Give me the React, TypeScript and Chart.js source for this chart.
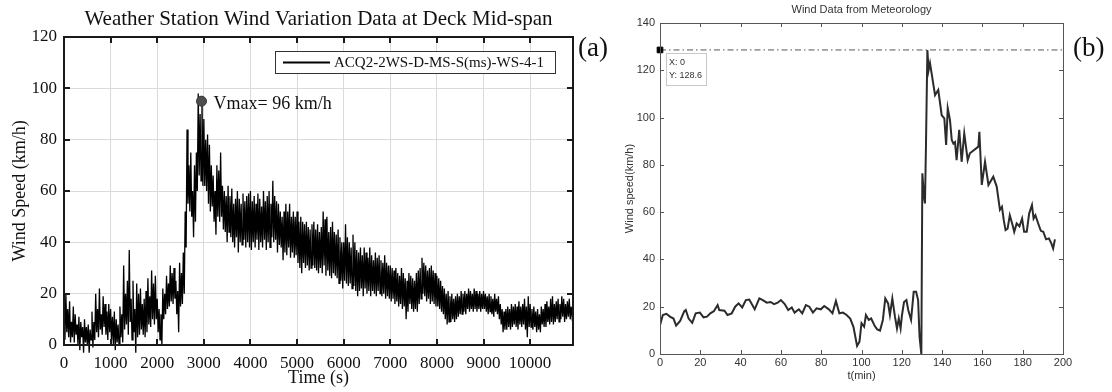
import { useEffect, useRef } from 'react';
import { Chart, registerables } from 'chart.js';

Chart.register(...registerables);

const SERIF = '"Liberation Serif", "Times New Roman", serif';
const SANS = '"Liberation Sans", Arial, sans-serif';

// ---------- Panel (a): deck mid-span weather station ----------
const DECK_TITLE = 'Weather Station Wind Variation Data at Deck Mid-span';
const DECK_SERIES_NAME = 'ACQ2-2WS-D-MS-S(ms)-WS-4-1';
const DECK_X_LABEL = 'Time (s)';
const DECK_Y_LABEL = 'Wind Speed (km/h)';
const DECK_SAMPLE_INTERVAL_S = 20;
const DECK_WIND_KMH = [
  // 0 - 980 s
  10, 2, 20, 5, 14, 3, 17, 1, 9, 3, 15, 1, 12, 4, 8, 0, 11, -2, 9, 3, 7, -3, 10, 1, 7,
  0, 8, -3, 6, 2, 13, -1, 9, 2, 20, 5, 14, 3, 22, 6, 12, 4, 19, 7, 16, 4, 13, 2, 16, 5,
  // 1000 - 1980 s
  14, 2, 11, 0, 13, -2, 10, 1, 8, 0, 15, 3, 12, 1, 31, 6, 20, 8, 25, 4, 37, 9, 18, 2, 25,
  5, 14, -3, 24, 3, 20, 4, 22, 6, 16, 4, 18, 3, 21, 5, 26, 8, 19, 7, 29, 10, 24, 8, 27, 10,
  // 2000 - 2980 s
  18, 5, 14, 2, 12, 0, 22, 10, 20, 12, 27, 14, 24, 15, 31, 17, 28, 16, 30, 18, 25, 12, 21, 5, 32,
  15, 28, 16, 36, 20, 52, 38, 84, 55, 70, 52, 75, 50, 60, 42, 70, 48, 75, 60, 98, 66, 90, 64, 97, 62,
  // 3000 - 3980 s
  88, 62, 80, 60, 82, 55, 78, 52, 70, 54, 66, 48, 60, 43, 70, 50, 68, 48, 75, 50, 62, 45, 60, 44, 58,
  40, 62, 44, 58, 42, 61, 40, 55, 38, 57, 42, 60, 36, 57, 40, 55, 39, 59, 41, 56, 38, 58, 40, 59, 38,
  // 4000 - 4980 s
  60, 37, 56, 40, 58, 38, 55, 41, 59, 37, 57, 40, 54, 38, 60, 41, 56, 37, 58, 40, 60, 38, 55, 42, 64,
  40, 58, 41, 56, 36, 55, 39, 52, 38, 50, 33, 52, 36, 55, 35, 52, 38, 55, 34, 50, 36, 52, 34, 50, 35,
  // 5000 - 5980 s
  52, 32, 48, 30, 50, 28, 48, 32, 47, 30, 48, 31, 46, 29, 45, 30, 47, 31, 48, 30, 45, 29, 47, 28, 44,
  30, 46, 28, 52, 31, 49, 27, 50, 29, 44, 27, 46, 26, 48, 28, 44, 27, 43, 26, 45, 24, 42, 25, 40, 22,
  // 6000 - 6980 s
  40, 25, 47, 24, 42, 23, 40, 24, 38, 22, 43, 23, 40, 21, 37, 19, 36, 21, 38, 22, 35, 19, 38, 22, 36,
  20, 34, 21, 38, 19, 35, 21, 33, 20, 36, 19, 34, 21, 35, 20, 33, 19, 32, 20, 35, 18, 32, 19, 31, 18,
  // 7000 - 7980 s
  31, 17, 30, 18, 29, 16, 30, 17, 28, 15, 27, 16, 30, 14, 28, 15, 26, 10, 25, 13, 28, 16, 27, 14, 26,
  13, 25, 14, 28, 13, 29, 16, 30, 18, 34, 20, 32, 19, 31, 17, 29, 18, 30, 16, 31, 17, 29, 16, 28, 15,
  // 8000 - 8980 s
  27, 15, 26, 14, 25, 13, 23, 12, 22, 10, 20, 8, 21, 9, 19, 9, 20, 10, 18, 9, 19, 10, 20, 11, 19,
  12, 21, 12, 20, 13, 21, 12, 20, 14, 22, 13, 21, 14, 20, 13, 22, 14, 21, 13, 20, 14, 21, 13, 20, 14,
  // 9000 - 9980 s
  21, 14, 20, 13, 19, 12, 20, 13, 19, 12, 18, 11, 20, 13, 18, 12, 19, 10, 16, 8, 14, 5, 13, 6, 14,
  6, 15, 7, 14, 6, 16, 7, 15, 8, 16, 7, 15, 6, 17, 8, 15, 7, 16, 8, 18, 6, 15, 3, 19, 7,
  // 10000 - 10920 s
  16, 7, 14, 6, 15, 7, 13, 5, 14, 6, 12, 5, 15, 8, 14, 7, 16, 7, 17, 9, 15, 8, 18, 9, 19,
  8, 16, 9, 17, 10, 18, 9, 16, 10, 19, 11, 18, 9, 16, 10, 17, 11, 18, 10, 15, 11, 13,
];
const DECK_X_TICKS = [0, 1000, 2000, 3000, 4000, 5000, 6000, 7000, 8000, 9000, 10000];
const DECK_X_MAX = 10920;
const DECK_Y_TICKS = [0, 20, 40, 60, 80, 100, 120];
const DECK_VMAX_TIME_S = 2950;
const DECK_VMAX_MARK_KMH = 95;
const DECK_VMAX_LABEL = 'Vmax= 96 km/h';

// ---------- Panel (b): meteorology ----------
const MET_TITLE = 'Wind Data from Meteorology';
const MET_X_LABEL = 't(min)';
const MET_Y_LABEL = 'Wind speed(km/h)';
const MET_TIME_MIN = [
  0, 0.5, 1.4, 3.2, 4.9, 6.7, 8, 10, 12, 12.8, 14.2, 16, 17.7, 19.8, 21.6, 23.3, 25, 26.8, 28.6, 29.4,
  32, 33.5, 35.6, 37.3, 39, 40.8, 42.6, 44.3, 47, 49.3, 51, 53, 54.9, 56.6, 58.4, 60, 61.9, 63.6, 65.4, 66.8,
  68.9, 70.6, 72.4, 74.1, 75.9, 77.7, 79.8, 81.5, 83.8, 85.6, 87.3, 89, 90.8, 92.6, 94.4, 96, 97.8, 99, 100, 101.3,
  102.2, 103.6, 104.8, 106.6, 107.8, 109.2, 110.6, 111.8, 113.2, 114.1, 115.3, 116.6, 117.6, 118.5, 119.4, 120.1, 121.1, 122.3, 123.2, 124.6,
  125.9, 127.1, 128.1, 128.8, 129.7, 130.2, 131, 131.5, 132, 132.7, 133.3, 134, 134.8, 136.5, 138.1, 139.8, 141.1, 142, 142.8, 143.9,
  144.8, 145.6, 146.4, 147.2, 148.5, 149.7, 151, 152.7, 153.8, 158, 158.5, 159.7, 161.3, 163, 165.4, 167.1, 168.7, 169.7, 170.6, 171.5,
  172.5, 173.6, 175, 175.8, 177, 178.4, 179.7, 180.7, 182, 183.2, 184.6, 185.4, 186.3, 187.7, 189, 190.2, 191.6, 193, 194.2, 195.1,
  196,
];
const MET_WIND_KMH = [
  15, 13.7, 16.5, 17, 15.8, 15, 12, 14, 18, 18.6, 15, 13.2, 17.2, 17.5, 15.5, 15.8, 17.2, 18.2, 20.7, 18.6,
  18.3, 16.5, 17.2, 20, 21.4, 19.7, 22.8, 23, 18.9, 23.5, 22.8, 21.7, 22, 21.1, 21.7, 22.8, 21.1, 18.6, 19.7, 17.5,
  18.9, 17.2, 20.7, 20, 17.5, 19.3, 18.9, 20.3, 18.9, 17.2, 22.4, 17.2, 17.5, 16.5, 15, 11.5, 3.4, 5.2, 13, 11.5,
  16.5, 14.4, 15, 11.8, 10.4, 9.9, 14.4, 23.5, 21.4, 16.5, 23.5, 15.8, 10.8, 15, 10.8, 16.5, 22, 22.8, 18.6, 14.4,
  26.3, 26.3, 22.8, 7.3, 0, 76.4, 66.5, 63.7, 88.4, 128.6, 120, 123, 118.7, 109.5, 111.7, 101, 99.7, 88.4, 103.9, 99,
  90.5, 89, 89.6, 82, 94.8, 81.3, 93.3, 82, 84.9, 87.7, 94, 71.5, 81.3, 71.5, 75, 70.8, 61, 62.3, 56.6, 52.4,
  53, 58.7, 54.5, 51.7, 55.2, 54, 57.3, 51.7, 51.7, 59.4, 63, 57.3, 58.7, 55.2, 52.1, 51.7, 48.5, 48.9, 46.8, 44.6,
  48.5,
];
const MET_X_TICKS = [0, 20, 40, 60, 80, 100, 120, 140, 160, 180, 200];
const MET_Y_TICKS = [0, 20, 40, 60, 80, 100, 120, 140];
const MET_PEAK_X = 0;
const MET_PEAK_Y = 128.6;

const PANEL_LABELS = ['(a)', '(b)'];

function makeDeckChart(canvas: HTMLCanvasElement) {
  const frame = {
    id: 'deckFrame',
    afterDatasetsDraw(chart: any) {
      const { ctx, chartArea: a, scales } = chart;
      const xs = scales.x;
      const ys = scales.y;
      ctx.save();
      // box + inward ticks
      ctx.strokeStyle = '#1a1a1a';
      ctx.lineWidth = 2;
      ctx.beginPath();
      DECK_X_TICKS.forEach((v) => {
        const x = Math.round(xs.getPixelForValue(v));
        ctx.moveTo(x, a.bottom);
        ctx.lineTo(x, a.bottom - 6);
        ctx.moveTo(x, a.top);
        ctx.lineTo(x, a.top + 6);
      });
      DECK_Y_TICKS.forEach((v) => {
        const y = Math.round(ys.getPixelForValue(v));
        ctx.moveTo(a.left, y);
        ctx.lineTo(a.left + 6, y);
        ctx.moveTo(a.right, y);
        ctx.lineTo(a.right - 6, y);
      });
      ctx.stroke();
      ctx.strokeRect(a.left, a.top, a.right - a.left, a.bottom - a.top);

      // title
      ctx.fillStyle = '#111';
      ctx.font = `21px ${SERIF}`;
      ctx.textAlign = 'center';
      ctx.textBaseline = 'alphabetic';
      ctx.fillText(DECK_TITLE, (a.left + a.right) / 2, 25);

      // legend
      const bw = 280;
      const bh = 22;
      const bx = a.right - 18 - bw;
      const by = a.top + 14;
      ctx.fillStyle = '#fff';
      ctx.fillRect(bx, by, bw, bh);
      ctx.lineWidth = 1;
      ctx.strokeStyle = '#333';
      ctx.strokeRect(bx + 0.5, by + 0.5, bw, bh);
      ctx.lineWidth = 2;
      ctx.strokeStyle = '#000';
      ctx.beginPath();
      ctx.moveTo(bx + 8, by + bh / 2 + 0.5);
      ctx.lineTo(bx + 55, by + bh / 2 + 0.5);
      ctx.stroke();
      ctx.fillStyle = '#111';
      ctx.font = `15px ${SERIF}`;
      ctx.textAlign = 'left';
      ctx.textBaseline = 'middle';
      ctx.fillText(DECK_SERIES_NAME, bx + 59, by + bh / 2 + 1);

      // Vmax annotation
      const px = xs.getPixelForValue(DECK_VMAX_TIME_S);
      const py = ys.getPixelForValue(DECK_VMAX_MARK_KMH);
      ctx.font = `18px ${SERIF}`;
      ctx.fillText(DECK_VMAX_LABEL, px + 12, py + 3);
      ctx.restore();
    },
  };

  return new Chart(canvas, {
    type: 'line',
    data: {
      datasets: [
        {
          type: 'scatter',
          data: [{ x: DECK_VMAX_TIME_S, y: DECK_VMAX_MARK_KMH }],
          pointRadius: 5,
          backgroundColor: '#4d4d4d',
          borderColor: '#333',
          borderWidth: 1,
          showLine: false,
        } as any,
        {
          label: DECK_SERIES_NAME,
          data: DECK_WIND_KMH.map((v, i) => ({ x: i * DECK_SAMPLE_INTERVAL_S, y: v })),
          borderColor: '#000',
          borderWidth: 1.3,
          pointRadius: 0,
          tension: 0,
          clip: false as any,
        },
      ],
    },
    options: {
      responsive: false,
      animation: false,
      events: [],
      layout: { padding: { top: 37, right: 47, left: 0, bottom: 0 } },
      plugins: { legend: { display: false }, tooltip: { enabled: false }, title: { display: false } },
      scales: {
        x: {
          type: 'linear',
          min: 0,
          max: DECK_X_MAX,
          afterBuildTicks: (s: any) => {
            s.ticks = DECK_X_TICKS.map((value) => ({ value }));
          },
          afterFit: (s: any) => {
            s.height = 47;
          },
          grid: { color: '#dadada', lineWidth: 1, drawTicks: false },
          border: { display: false },
          ticks: {
            color: '#111',
            font: { family: SERIF, size: 17 },
            padding: 8,
            autoSkip: false,
            maxRotation: 0,
            callback: (v: any) => String(v),
          },
          title: {
            display: true,
            text: DECK_X_LABEL,
            color: '#111',
            font: { family: SERIF, size: 18 },
            padding: { top: 0, bottom: 3 },
          },
        },
        y: {
          type: 'linear',
          min: 0,
          max: 120,
          afterBuildTicks: (s: any) => {
            s.ticks = DECK_Y_TICKS.map((value) => ({ value }));
          },
          afterFit: (s: any) => {
            s.width = 64;
          },
          grid: { color: '#dadada', lineWidth: 1, drawTicks: false },
          border: { display: false },
          ticks: { color: '#111', font: { family: SERIF, size: 17 }, padding: 7 },
          title: {
            display: true,
            text: DECK_Y_LABEL,
            color: '#111',
            font: { family: SERIF, size: 18 },
            padding: { top: 9, bottom: 0 },
          },
        },
      },
    },
    plugins: [frame],
  } as any);
}

function makeMetChart(canvas: HTMLCanvasElement) {
  const frame = {
    id: 'metFrame',
    afterDatasetsDraw(chart: any) {
      const { ctx, chartArea: a, scales } = chart;
      const xs = scales.x;
      const ys = scales.y;
      ctx.save();
      ctx.strokeStyle = '#555';
      ctx.lineWidth = 1;
      ctx.beginPath();
      MET_X_TICKS.forEach((v) => {
        const x = Math.round(xs.getPixelForValue(v)) + 0.5;
        ctx.moveTo(x, a.bottom);
        ctx.lineTo(x, a.bottom - 4);
        ctx.moveTo(x, a.top);
        ctx.lineTo(x, a.top + 4);
      });
      MET_Y_TICKS.forEach((v) => {
        const y = Math.round(ys.getPixelForValue(v)) + 0.5;
        ctx.moveTo(a.left, y);
        ctx.lineTo(a.left + 4, y);
        ctx.moveTo(a.right, y);
        ctx.lineTo(a.right - 4, y);
      });
      ctx.stroke();
      ctx.strokeRect(Math.round(a.left) + 0.5, Math.round(a.top) + 0.5, Math.round(a.right - a.left), Math.round(a.bottom - a.top));

      // title
      ctx.fillStyle = '#333';
      ctx.font = `11px ${SANS}`;
      ctx.textAlign = 'center';
      ctx.textBaseline = 'middle';
      ctx.fillText(MET_TITLE, (a.left + a.right) / 2, 10);

      // data tip
      const mx = xs.getPixelForValue(MET_PEAK_X);
      const my = ys.getPixelForValue(MET_PEAK_Y);
      const bx = Math.round(mx + 6);
      const by = Math.round(my + 3);
      ctx.fillStyle = '#fff';
      ctx.fillRect(bx, by, 40, 32);
      ctx.strokeStyle = '#c8c8c8';
      ctx.strokeRect(bx + 0.5, by + 0.5, 40, 32);
      ctx.fillStyle = '#333';
      ctx.font = `9px ${SANS}`;
      ctx.textAlign = 'left';
      ctx.fillText(`X: ${MET_PEAK_X}`, bx + 3, by + 10);
      ctx.fillText(`Y: ${MET_PEAK_Y}`, bx + 3, by + 23);
      ctx.restore();
    },
  };

  return new Chart(canvas, {
    type: 'line',
    data: {
      datasets: [
        {
          type: 'scatter',
          data: [{ x: MET_PEAK_X, y: MET_PEAK_Y }],
          pointStyle: 'rect',
          pointRadius: 4,
          backgroundColor: '#000',
          borderColor: '#000',
          showLine: false,
          clip: false,
        } as any,
        {
          data: MET_TIME_MIN.map((t, i) => ({ x: t, y: MET_WIND_KMH[i] })),
          borderColor: '#2b2b2b',
          borderWidth: 2,
          pointRadius: 0,
          tension: 0,
        },
        {
          data: [
            { x: MET_X_TICKS[0], y: MET_PEAK_Y },
            { x: MET_X_TICKS[MET_X_TICKS.length - 1], y: MET_PEAK_Y },
          ],
          borderColor: '#555',
          borderWidth: 1,
          borderDash: [6, 3, 1.5, 3],
          pointRadius: 0,
        },
      ],
    },
    options: {
      responsive: false,
      animation: false,
      events: [],
      layout: { padding: { top: 23, right: 49, left: 0, bottom: 0 } },
      plugins: { legend: { display: false }, tooltip: { enabled: false }, title: { display: false } },
      scales: {
        x: {
          type: 'linear',
          min: 0,
          max: 200,
          afterBuildTicks: (s: any) => {
            s.ticks = MET_X_TICKS.map((value) => ({ value }));
          },
          afterFit: (s: any) => {
            s.height = 38;
          },
          grid: { display: false, drawTicks: false },
          border: { display: false },
          ticks: {
            color: '#333',
            font: { family: SANS, size: 11 },
            padding: 2,
            autoSkip: false,
            maxRotation: 0,
          },
          title: {
            display: true,
            text: MET_X_LABEL,
            color: '#333',
            font: { family: SANS, size: 11 },
            padding: { top: 0, bottom: 9 },
          },
        },
        y: {
          type: 'linear',
          min: 0,
          max: 140,
          afterBuildTicks: (s: any) => {
            s.ticks = MET_Y_TICKS.map((value) => ({ value }));
          },
          afterFit: (s: any) => {
            s.width = 40;
          },
          grid: { display: false, drawTicks: false },
          border: { display: false },
          ticks: { color: '#333', font: { family: SANS, size: 11 }, padding: 5 },
          title: {
            display: true,
            text: MET_Y_LABEL,
            color: '#333',
            font: { family: SANS, size: 11 },
            padding: { top: 3, bottom: 0 },
          },
        },
      },
    },
    plugins: [frame],
  } as any);
}

export default function App() {
  const leftRef = useRef<HTMLCanvasElement>(null);
  const rightRef = useRef<HTMLCanvasElement>(null);

  useEffect(() => {
    const c1 = makeDeckChart(leftRef.current!);
    const c2 = makeMetChart(rightRef.current!);
    return () => {
      c1.destroy();
      c2.destroy();
    };
  }, []);

  const labelStyle = {
    position: 'absolute' as const,
    top: 34,
    fontFamily: SERIF,
    fontSize: 27,
    lineHeight: '27px',
    color: '#111',
  };

  return (
    <div style={{ position: 'absolute', left: 0, top: 0, width: 1112, height: 392, overflow: 'hidden', background: '#fff' }}>
      <canvas ref={leftRef} width={620} height={392} style={{ position: 'absolute', left: 0, top: 0, width: 620, height: 392 }} />
      <canvas ref={rightRef} width={492} height={392} style={{ position: 'absolute', left: 620, top: 0, width: 492, height: 392 }} />
      <div style={{ ...labelStyle, left: 578 }}>{PANEL_LABELS[0]}</div>
      <div style={{ ...labelStyle, left: 1073 }}>{PANEL_LABELS[1]}</div>
    </div>
  );
}
